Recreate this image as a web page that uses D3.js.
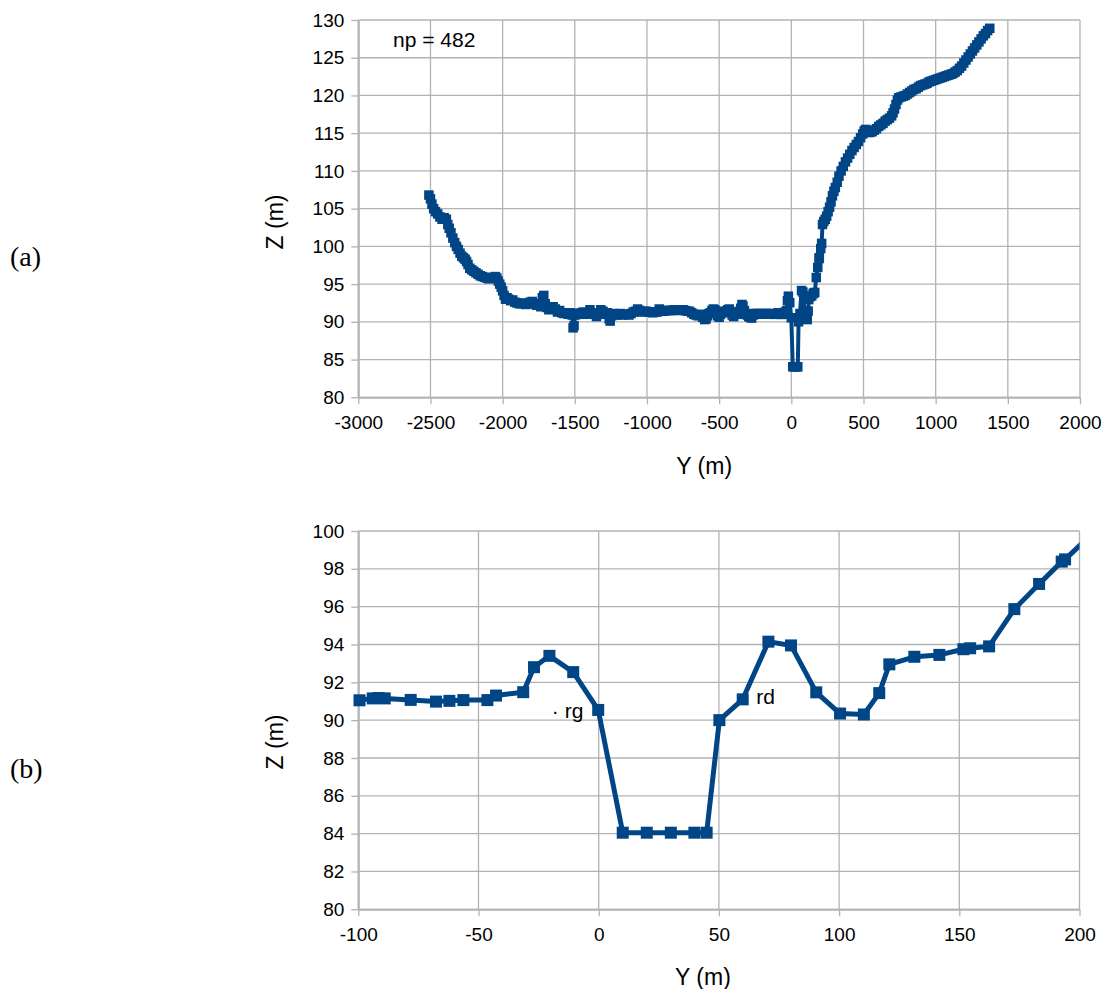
<!DOCTYPE html>
<html>
<head>
<meta charset="utf-8">
<script src="https://cdn.jsdelivr.net/npm/d3@7"></script>
<style>
  html, body { margin: 0; padding: 0; background: #fff; }
  svg { display: block; }
  text { font-family: "Liberation Sans", Arial, sans-serif; fill: #000; }
  text.serif { font-family: "Liberation Serif", "Times New Roman", serif; }
</style>
</head>
<body>
<svg id="chart" width="1105" height="989"></svg>
<script>
// ---- Data: cross-section profile, Y (m) distance vs Z (m) elevation ----
const profileY = [
  -2511,-2500,-2490,-2478,-2465,-2450,-2435,-2420,-2405,-2390,-2380,-2370,-2358,-2345,-2332,-2320,-2308,-2295,-2283,-2272,
  -2260,-2250,-2240,-2228,-2215,-2200,-2185,-2170,-2155,-2140,-2125,-2110,-2095,-2080,-2065,-2050,-2040,-2030,-2020,-2010,
  -2000,-1990,-1980,-1970,-1958,-1945,-1930,-1915,-1900,-1885,-1870,-1855,-1840,-1825,-1810,-1795,-1780,-1765,-1750,-1735,
  -1725,-1715,-1705,-1695,-1680,-1665,-1650,-1635,-1620,-1605,-1590,-1575,-1560,-1545,-1530,-1518,-1512,-1505,-1498,-1485,
  -1470,-1455,-1440,-1425,-1410,-1395,-1380,-1365,-1350,-1335,-1320,-1305,-1290,-1275,-1262,-1255,-1245,-1230,-1215,-1200,
  -1185,-1170,-1155,-1140,-1125,-1110,-1095,-1080,-1065,-1050,-1035,-1020,-1005,-990,-975,-960,-945,-930,-915,-900,
  -885,-870,-855,-840,-825,-810,-795,-780,-765,-750,-735,-720,-705,-690,-675,-660,-645,-630,-615,-600,
  -590,-580,-570,-560,-550,-540,-530,-520,-510,-500,-490,-480,-470,-460,-450,-440,-430,-420,-410,-400,
  -390,-380,-370,-360,-350,-342,-335,-325,-315,-305,-295,-285,-275,-265,-255,-240,-225,-210,-195,-180,
  -165,-150,-135,-120,-110,
  -99.5,-94,-91.5,-89,-78.2,-67.7,-62.1,-56.3,-46.3,-42.7,-31.4,-26.9,-20.5,-10.6,-0.2,10,20,30,39.8,44.9,
  50.2,59.9,70.6,80,90.5,100.4,110.3,116.7,120.9,131.3,141.7,151.7,154.5,162.4,172.9,183.2,192.6,194,
  204,210,216,225,235,245,255,265,275,285,295,305,318,330,345,360,375,390,405,420,
  435,450,465,480,495,505,515,530,545,560,575,590,605,620,635,650,665,680,695,705,
  715,725,735,745,760,775,790,805,820,835,850,865,880,895,910,925,940,955,970,985,
  1000,1015,1030,1045,1060,1075,1090,1105,1120,1135,1150,1165,1180,1195,1210,1225,1240,1255,1270,1285,
  1300,1315,1330,1345,1360,1375
];
const profileZ = [
  106.8,106.3,105.6,105.0,104.6,104.3,103.9,103.6,103.8,103.6,102.9,102.4,101.8,101.1,100.5,100.0,99.6,99.1,98.7,98.5,
  98.3,98.0,97.6,97.1,96.9,96.7,96.5,96.3,96.1,96.0,95.9,95.8,95.7,95.8,95.9,96.0,95.8,95.4,95.0,94.6,
  94.1,93.5,93.0,93.2,93.0,92.8,92.9,92.6,92.5,92.4,92.4,92.5,92.3,92.4,92.6,92.7,92.4,92.2,92.3,92.0,
  93.2,93.5,92.4,91.9,91.6,91.8,92.0,91.7,91.3,91.5,91.2,91.1,91.2,91.0,91.2,90.9,89.2,89.5,90.9,91.1,
  91.0,91.2,91.3,91.0,91.2,91.6,91.2,91.0,90.7,91.1,91.6,91.4,91.0,91.2,90.4,90.1,90.8,91.1,90.9,91.0,
  91.1,90.9,91.0,91.0,90.9,91.1,91.3,91.4,91.7,91.5,91.3,91.4,91.4,91.3,91.3,91.2,91.3,91.3,91.7,91.5,
  91.4,91.5,91.5,91.5,91.5,91.6,91.6,91.6,91.5,91.6,91.5,91.4,91.4,91.2,91.0,90.9,90.8,91.0,90.6,90.3,
  90.4,90.8,91.1,91.2,91.5,91.7,91.6,91.2,90.8,90.6,91.0,91.3,91.4,91.2,91.4,91.6,91.7,91.3,90.9,90.7,
  91.0,91.1,91.0,91.4,91.8,92.3,92.1,91.5,91.1,90.9,90.7,90.6,90.5,90.9,91.1,91.1,91.1,91.0,91.1,91.1,
  91.1,91.0,91.1,91.0,91.0,
  91.05,91.15,91.17,91.15,91.07,90.98,91.02,91.06,91.06,91.3,91.48,92.8,93.4,92.54,90.54,84.05,84.05,84.05,84.05,84.05,
  90.0,91.1,94.15,93.95,91.47,90.35,90.3,91.43,92.95,93.35,93.45,93.75,93.8,93.9,95.87,97.2,98.38,98.5,
  99.7,100.4,102.9,103.3,103.6,104.0,104.6,105.2,105.9,106.7,107.3,107.8,108.5,109.3,110.0,110.6,111.2,111.7,112.2,112.7,
  113.1,113.5,113.9,114.4,114.9,115.3,115.5,115.1,115.1,115.2,115.4,115.6,115.9,116.1,116.3,116.6,116.8,117.0,117.3,117.7,
  118.2,118.8,119.4,119.7,119.8,119.9,120.0,120.2,120.4,120.6,120.8,120.9,121.1,121.3,121.4,121.5,121.6,121.8,121.9,122.0,
  122.1,122.2,122.3,122.4,122.5,122.6,122.7,122.8,122.9,123.1,123.3,123.6,123.9,124.3,124.7,125.1,125.5,125.9,126.3,126.7,
  127.1,127.5,127.9,128.2,128.6,128.9
];

// Axis tick values
const ticksAX = [-3000,-2500,-2000,-1500,-1000,-500,0,500,1000,1500,2000];
const ticksAY = [80,85,90,95,100,105,110,115,120,125,130];
const ticksBX = [-100,-50,0,50,100,150,200];
const ticksBY = [80,82,84,86,88,90,92,94,96,98,100];

// Text labels
const panelLabels = ["(a)", "(b)"];
const xTitle = "Y (m)";
const yTitle = "Z (m)";
const npLabel = "np = 482";
const annotB = [{t: "· rg", y: -19.5, z: 90.1}, {t: "rd", y: 65.5, z: 90.85}];

const data = profileY.map((y, i) => ({y, z: profileZ[i]}));

const svg = d3.select("#chart");
const LINE = "#004586", GRID = "#b3b3b3";

function panel(cfg) {
  const x = d3.scaleLinear().domain(cfg.xd).range([cfg.left, cfg.right]);
  const y = d3.scaleLinear().domain(cfg.yd).range([cfg.bottom, cfg.top]);
  const g = svg.append("g");

  // gridlines
  g.append("g").selectAll("line.v").data(cfg.xt).join("line")
    .attr("x1", d => x(d)).attr("x2", d => x(d))
    .attr("y1", cfg.top).attr("y2", cfg.bottom)
    .attr("stroke", GRID).attr("stroke-width", 1.3);
  g.append("g").selectAll("line.h").data(cfg.yt).join("line")
    .attr("x1", cfg.left).attr("x2", cfg.right)
    .attr("y1", d => y(d)).attr("y2", d => y(d))
    .attr("stroke", GRID).attr("stroke-width", 1.3);

  // axes
  const ax = g.append("g").attr("transform", `translate(0,${cfg.bottom})`)
    .call(d3.axisBottom(x).tickValues(cfg.xt).tickSize(7).tickSizeOuter(0).tickPadding(11).tickFormat(d3.format("d")));
  const ay = g.append("g").attr("transform", `translate(${cfg.left},0)`)
    .call(d3.axisLeft(y).tickValues(cfg.yt).tickSize(7).tickSizeOuter(0).tickPadding(7).tickFormat(d3.format("d")));
  [ax, ay].forEach(a => {
    a.select(".domain").attr("stroke", GRID).attr("stroke-width", 2);
    a.selectAll(".tick line").attr("stroke", GRID).attr("stroke-width", 1.3);
    a.selectAll(".tick text").attr("font-size", 19).style("fill", "#000")
      .style("font-family", '"Liberation Sans", Arial, sans-serif');
  });
  ax.selectAll(".tick text").text(d => d < 0 ? "-" + Math.abs(d) : d);

  // clip
  const cid = "clip" + cfg.id;
  svg.append("clipPath").attr("id", cid).append("rect")
    .attr("x", cfg.left).attr("y", cfg.top - 2)
    .attr("width", cfg.right - cfg.left).attr("height", cfg.bottom - cfg.top + 4);

  const line = d3.line().x(d => x(d.y)).y(d => y(d.z));
  g.append("path").datum(data).attr("d", line)
    .attr("fill", "none").attr("stroke", LINE).attr("stroke-width", cfg.lw)
    .attr("stroke-linejoin", "round").attr("clip-path", `url(#${cid})`);

  const inside = data.filter(d => d.y >= cfg.xd[0] && d.y <= cfg.xd[1] && d.z >= cfg.yd[0] && d.z <= cfg.yd[1]);
  g.append("g").selectAll("rect").data(inside).join("rect")
    .attr("x", d => x(d.y) - cfg.ms / 2).attr("y", d => y(d.z) - cfg.ms / 2)
    .attr("width", cfg.ms).attr("height", cfg.ms).attr("fill", LINE);

  // titles
  g.append("text").attr("x", (cfg.left + cfg.right) / 2 + cfg.xtDx).attr("y", cfg.xtY)
    .attr("text-anchor", "middle").attr("font-size", 23).text(xTitle);
  g.append("text").attr("transform", `translate(${cfg.ytX},${cfg.ytY}) rotate(-90)`)
    .attr("text-anchor", "middle").attr("font-size", 23).text(yTitle);
  g.append("text").attr("class", "serif").attr("x", 10).attr("y", cfg.plY)
    .attr("font-size", 28).text(cfg.pl);
  return {x, y, g};
}

const A = panel({id: "a", xd: [-3000, 2000], yd: [80, 130], xt: ticksAX, yt: ticksAY,
  left: 358.3, right: 1080, top: 20, bottom: 397.3, lw: 4, ms: 9.5,
  xtDx: -15, xtY: 474, ytX: 283, ytY: 222, plY: 266, pl: panelLabels[0]});
A.g.append("text").attr("x", 393).attr("y", 47).attr("font-size", 21).text(npLabel);

const B = panel({id: "b", xd: [-100, 200], yd: [80, 100], xt: ticksBX, yt: ticksBY,
  left: 358.3, right: 1079.5, top: 531, bottom: 909.3, lw: 5, ms: 12,
  xtDx: -16, xtY: 985, ytX: 283, ytY: 742, plY: 778, pl: panelLabels[1]});
B.g.selectAll("text.ann").data(annotB).join("text")
  .attr("x", d => B.x(d.y)).attr("y", d => B.y(d.z))
  .attr("font-size", 21).text(d => d.t);
</script>
</body>
</html>
